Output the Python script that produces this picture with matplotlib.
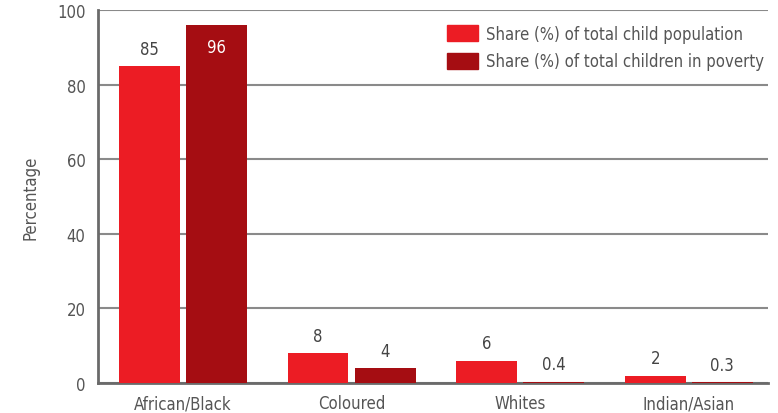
import matplotlib
matplotlib.use("Agg")
import matplotlib.pyplot as plt
import numpy as np
from matplotlib.patches import Patch

plt.rcParams['font.family'] = ['DejaVu Sans']
plt.rcParams['font.stretch'] = 'condensed'

groups = ["African/Black", "Coloured", "Whites", "Indian/Asian"]
child_pop = [85, 8, 6, 2]
child_poverty = [96, 4, 0.4, 0.3]
pop_labels = ["85", "8", "6", "2"]
poverty_labels = ["96", "4", "0.4", "0.3"]
series_names = ["Share (%) of total child population",
                "Share (%) of total children in poverty"]

red = "#ec1c24"
darkred = "#a50d12"
textgray = "#555555"
fs = 12

fig = plt.figure(figsize=(7.78, 4.14), dpi=100)
ax = fig.add_axes([98 / 778, 30 / 414, 670 / 778, 373 / 414])

x = np.arange(len(groups))
w = 0.36
gap = 0.038
ax.bar(x - (w + gap) / 2, child_pop, w, color=red, zorder=3)
ax.bar(x + (w + gap) / 2, child_poverty, w, color=darkred, zorder=3)

for i in range(len(groups)):
    ax.text(x[i] - (w + gap) / 2, child_pop[i] + 2.2, pop_labels[i],
            ha="center", va="bottom", fontsize=fs, color="#444444")
    if child_poverty[i] > 50:
        ax.text(x[i] + (w + gap) / 2, child_poverty[i] - 3.5, poverty_labels[i],
                ha="center", va="top", fontsize=fs, color="white")
    else:
        ax.text(x[i] + (w + gap) / 2, child_poverty[i] + 2.2, poverty_labels[i],
                ha="center", va="bottom", fontsize=fs, color="#444444")

ax.set_xlim(-0.505, 3.47)
ax.set_ylim(0, 100)
ax.set_yticks(range(0, 101, 20))
ax.set_xticks(x)
ax.set_xticklabels(groups)
ax.yaxis.grid(True, color="#8a8a8a", linewidth=1.5, zorder=0)
ax.set_axisbelow(True)

for s in ["top", "right"]:
    ax.spines[s].set_visible(False)
ax.spines["left"].set_color("#6a6a6a")
ax.spines["left"].set_linewidth(2)
ax.spines["bottom"].set_color("#6a6a6a")
ax.spines["bottom"].set_linewidth(2)
ax.tick_params(axis="y", length=0, labelsize=fs, labelcolor=textgray, pad=9)
ax.tick_params(axis="x", length=0, labelsize=fs, labelcolor=textgray, pad=8)
ax.set_ylabel("Percentage", fontsize=fs, color=textgray)
ax.yaxis.set_label_coords(-0.088, 0.5)

handles = [Patch(color=red), Patch(color=darkred)]
leg = ax.legend(handles, series_names, loc="upper right",
                bbox_to_anchor=(1.006, 0.982), frameon=True,
                facecolor="white", edgecolor="none", framealpha=1,
                fontsize=fs, labelcolor=textgray, handlelength=1.85,
                handleheight=1.1, handletextpad=0.45, borderaxespad=0.15,
                labelspacing=0.55, borderpad=0.35)

fig.savefig("out.png", dpi=100)
